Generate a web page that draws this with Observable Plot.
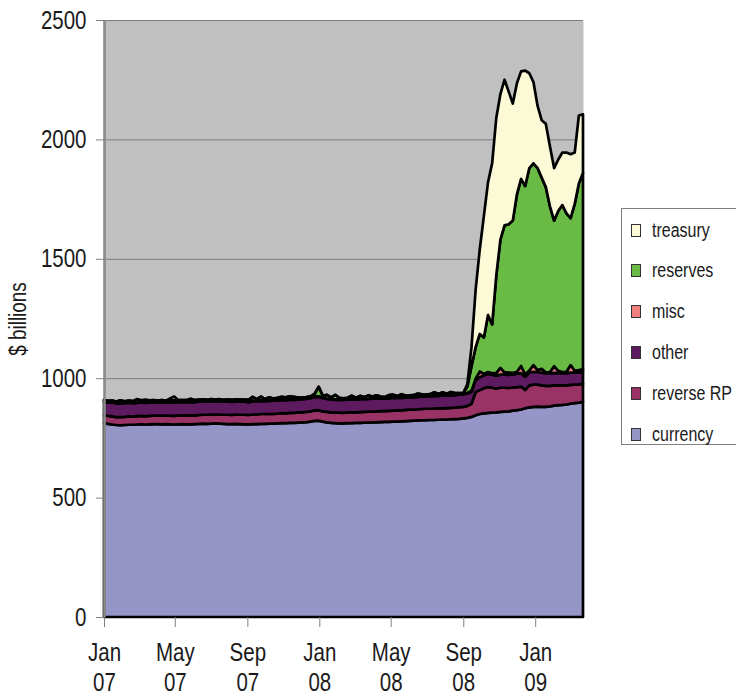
<!DOCTYPE html>
<html><head><meta charset="utf-8">
<script src="https://cdn.jsdelivr.net/npm/d3@7"></script>
<script src="https://cdn.jsdelivr.net/npm/@observablehq/plot@0.6"></script>
<style>
html,body{margin:0;padding:0;background:#fff;overflow:hidden;}
body{font-family:"Liberation Sans",Arial,sans-serif;color:#1a1a1a;}
#wrap{position:relative;width:736px;height:696px;overflow:hidden;}
#chart{position:absolute;left:0;top:0;}
#legend{position:absolute;left:621px;top:208px;width:130px;height:237px;border:1.5px solid #7f7f7f;box-sizing:border-box;background:#fff;}
.item{position:absolute;left:9px;height:20px;display:flex;align-items:center;font-size:19.5px;white-space:nowrap;}
.sw{width:10px;height:13px;border:1px solid #333;margin-right:11px;box-sizing:border-box;flex:none;}
.lbl{display:inline-block;transform:scaleX(0.82);transform-origin:0 50%;}
</style></head><body>
<div id="wrap"><div id="chart"></div><div id="legend"></div></div>
<script>
// weekly observations, Jan 2007 – Mar 2009 ($ billions)
const names = ["currency", "reverse RP", "other", "misc", "reserves", "treasury"];
const colors = ["#9595c8", "#993366", "#5e1a5e", "#f08080", "#6abb45", "#fcfad6"];

const currency = [
  812, 809, 806, 804, 803, 804, 805, 805, 806, 807, 806, 807, 808,
  808, 807, 808, 807, 806, 807, 808, 807, 807, 808, 809, 810, 809,
  810, 811, 810, 809, 808, 808, 809, 808, 807, 807, 808, 808, 809,
  809, 810, 810, 811, 812, 812, 813, 813, 814, 815, 816, 818, 821,
  822, 818, 815, 813, 812, 811, 811, 812, 812, 813, 813, 814, 814,
  815, 815, 816, 817, 817, 818, 818, 819, 820, 821, 822, 823, 824,
  824, 825, 825, 826, 827, 827, 828, 829, 830,
  832, 834, 838, 845, 850, 853, 855, 856, 857, 859, 860, 861, 864,
  866, 869, 874, 878, 880, 881, 880, 880, 882, 885, 887, 888, 890, 893, 896, 898, 901
];
const reverseRP = [
  33, 33, 34, 33, 34, 34, 35, 34, 35, 35, 34, 35, 35,
  35, 36, 35, 36, 36, 37, 36, 37, 37, 36, 37, 37, 38,
  38, 37, 38, 38, 39, 38, 39, 39, 40, 39, 40, 40, 41,
  41, 40, 41, 41, 42, 41, 42, 42, 43, 42, 43, 43, 44,
  44, 43, 44, 44, 44, 45, 44, 45, 45, 44, 45, 45, 46,
  45, 46, 46, 45, 46, 46, 47, 46, 47, 47, 46, 47, 47,
  48, 47, 48, 48, 47, 48, 48, 48, 49,
  48, 50, 55, 97, 100, 105, 108, 104, 100, 101, 100, 98, 97,
  97, 96, 77, 92, 93, 92, 90, 88, 86, 85, 83, 82, 80, 79, 77, 76, 75
];
const other = [
  57, 56, 58, 57, 56, 57, 58, 57, 56, 57, 56, 57, 57,
  56, 57, 56, 57, 56, 56, 57, 56, 55, 56, 57, 56, 55,
  56, 55, 56, 55, 56, 55, 55, 56, 55, 54, 55, 56, 55,
  54, 55, 55, 54, 55, 54, 55, 54, 54, 55, 54, 55, 56,
  56, 55, 54, 54, 53, 54, 54, 53, 54, 53, 54, 53, 53,
  54, 53, 53, 52, 53, 53, 52, 53, 52, 53, 52, 52, 53,
  52, 53, 52, 52, 53, 52, 52, 52, 52,
  52, 52, 50, 50, 54, 54, 55, 55, 54, 55, 56, 55, 55,
  56, 56, 55, 54, 54, 53, 53, 52, 52, 52, 51, 51, 51, 51, 50, 50, 50
];
const misc = [
  2, 2, 3, 2, 2, 2, 3, 2, 2, 2, 2, 3, 2,
  2, 2, 2, 3, 2, 2, 2, 2, 3, 2, 2, 2, 2,
  3, 2, 2, 2, 2, 3, 2, 2, 2, 2, 3, 2, 2,
  2, 2, 3, 2, 2, 2, 2, 3, 2, 2, 2, 2, 3,
  2, 2, 2, 3, 2, 2, 2, 2, 3, 2, 2, 2, 2,
  3, 2, 2, 2, 2, 3, 2, 2, 2, 2, 3, 2, 2,
  2, 2, 3, 2, 2, 2, 2, 3, 2,
  2, 3, 4, 6, 24, 6, 8, 6, 10, 28, 8, 10, 6,
  8, 30, 10, 8, 28, 8, 16, 4, 6, 28, 10, 5, 6, 32, 8, 10, 12
];
const reserves = [
  6, 5, 5, 6, 12, 6, 5, 6, 13, 6, 11, 5, 6,
  5, 6, 5, 6, 7, 6, 5, 6, 12, 6, 5, 6, 5,
  6, 5, 6, 5, 6, 5, 6, 5, 6, 7, 16, 6, 16,
  6, 13, 6, 10, 11, 11, 12, 10, 6, 5, 6, 6, 10,
  40, 8, 15, 6, 19, 6, 5, 6, 13, 6, 12, 6, 13,
  6, 12, 6, 5, 11, 11, 6, 13, 6, 5, 6, 12, 6,
  5, 6, 13, 6, 12, 6, 12, 6, 5,
  4, 26, 103, 132, 157, 152, 239, 204, 409, 537, 616, 621, 638,
  743, 784, 789, 848, 845, 846, 801, 776, 694, 610, 669, 699, 663, 615, 699, 781, 822
];
const treasury = [
  0, 0, 0, 0, 0, 0, 0, 0, 0, 0, 0, 0, 0,
  0, 0, 0, 6, 16, 0, 0, 0, 0, 0, 0, 0, 0,
  0, 0, 0, 0, 0, 0, 0, 0, 0, 0, 0, 0, 0,
  0, 0, 0, 0, 0, 0, 0, 0, 0, 0, 0, 0, 0,
  0, 0, 0, 0, 0, 0, 0, 0, 0, 0, 0, 0, 0,
  0, 0, 0, 0, 0, 0, 0, 0, 0, 0, 0, 0, 0,
  0, 0, 0, 0, 0, 0, 0, 0, 0,
  0, 10, 80, 240, 355, 510, 555, 675, 660, 610, 610, 555, 490,
  465, 450, 483, 397, 340, 260, 240, 265, 250, 220, 215, 220, 255, 268, 215, 285, 245
];

const yTicks = [0, 500, 1000, 1500, 2000, 2500];
const gridLines = [500, 1000, 1500, 2000, 2500];
const xTickLabels = ["2007-01-01", "2007-05-01", "2007-09-01", "2008-01-01", "2008-05-01", "2008-09-01", "2009-01-01"];

const dates = currency.map((_, i) => new Date(Date.UTC(2007, 0, 1 + 7 * i)));
const seriesVals = [currency, reverseRP, other, misc, reserves, treasury];
const data = names.flatMap((name, k) => seriesVals[k].map((v, i) => ({date: dates[i], name, value: v})));
const xTicks = xTickLabels.map(s => new Date(s + "T00:00:00Z"));
const fmtTick = d => d3.utcFormat("%b")(d) + "\n" + d3.utcFormat("%y")(d);

const FONT = '"Liberation Sans",Arial,sans-serif';

const chart = Plot.plot({
  width: 600, height: 696,
  marginLeft: 104, marginRight: 17, marginTop: 20, marginBottom: 79,
  x: {type: "utc", domain: [dates[0], dates[dates.length - 1]]},
  y: {domain: [0, 2500]},
  color: {domain: names, range: colors},
  style: {fontFamily: FONT, background: "white", color: "#1a1a1a"},
  marks: [
    Plot.frame({fill: "#c0c0c0"}),
    Plot.ruleY(gridLines, {stroke: "#7a7a7a", strokeWidth: 1}),
    Plot.areaY(data, {x: "date", y: "value", z: "name", fill: "name", order: names,
      stroke: "#000", strokeWidth: 2.7, strokeLinejoin: "round"}),
    Plot.ruleX([dates[0]], {stroke: "#8a8a8a", strokeWidth: 2.6}),
    Plot.axisY({ticks: yTicks, tickSize: 8, tickPadding: 10, tickFormat: d3.format("d"),
      fontSize: 25, label: null, stroke: "#808080"}),
    Plot.axisX({ticks: xTicks, tickSize: 10, tickPadding: 13, tickFormat: fmtTick,
      fontSize: 25, lineHeight: 1.17, label: null, stroke: "#808080"}),
    Plot.text(["$ billions"], {frameAnchor: "left", dx: -86, rotate: -90,
      textAnchor: "middle", lineAnchor: "middle", fontSize: 23})
  ]
});

// condense all chart text horizontally (narrow grotesque look)
chart.querySelectorAll("text").forEach(t => {
  const tr = t.getAttribute("transform");
  if (tr) t.setAttribute("transform", tr + " scale(0.82,1)");
  else {
    const x = +(t.getAttribute("x") || 0);
    t.setAttribute("transform", `translate(${x},0) scale(0.82,1) translate(${-x},0)`);
  }
});
document.getElementById("chart").appendChild(chart);

// legend (top to bottom: treasury ... currency)
const legend = document.getElementById("legend");
names.slice().reverse().forEach((name, i) => {
  const item = document.createElement("div");
  item.className = "item";
  item.style.top = (11 + i * 40.8) + "px";
  const sw = document.createElement("span");
  sw.className = "sw";
  sw.style.background = colors[names.indexOf(name)];
  const t = document.createElement("span");
  t.className = "lbl";
  t.textContent = name;
  item.appendChild(sw); item.appendChild(t);
  legend.appendChild(item);
});
</script>
</body></html>
